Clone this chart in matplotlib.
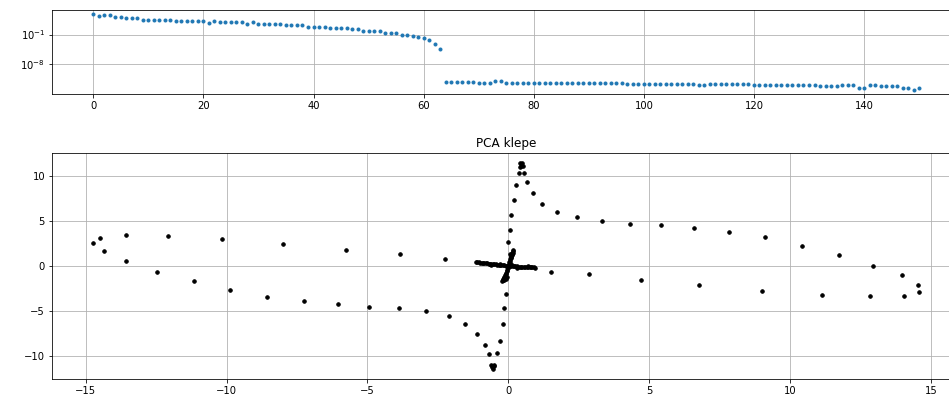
import numpy as np
import matplotlib.pyplot as plt
from matplotlib.ticker import NullLocator

######### DATA #########

# log10 of the PCA eigenvalues
eig_log10 = [3.95, 3.5, 3.55, 3.55, 3.15, 3.15, 2.85, 2.85, 2.85, 2.53,
             2.53, 2.53, 2.53, 2.53, 2.53, 2.2, 2.2, 2.2, 2.2, 2.2,
             2.2, 1.83, 2.3, 1.97, 1.97, 1.97, 1.97, 1.97, 1.5, 2.1,
             1.6, 1.6, 1.6, 1.6, 1.6, 1.2, 1.27, 1.27, 1.27, 0.9,
             0.9, 0.88, 0.88, 0.56, 0.56, 0.56, 0.5, 0.25, 0.22, -0.05,
             -0.05, -0.08, -0.22, -0.53, -0.69, -0.72, -1.0, -1.05, -1.24, -1.7,
             -1.9, -2.3, -3.2, -4.45,
             # numerically zero part
             -12.25, -12.25, -12.25, -12.25, -12.25, -12.25, -12.55, -12.55, -12.55, -12.1,
             -12.1, -12.5, -12.5, -12.5, -12.5, -12.5, -12.5, -12.5, -12.5, -12.5,
             -12.5, -12.5, -12.5, -12.5, -12.5, -12.5, -12.5, -12.5, -12.5, -12.5,
             -12.5, -12.5, -12.5, -12.75, -12.75, -12.75, -12.75, -12.75, -12.75, -12.75,
             -12.75, -12.75, -12.75, -12.75, -12.75, -12.75, -13.1, -13.1, -12.8, -12.8,
             -12.8, -12.8, -12.8, -12.8, -12.8, -12.8, -13.1, -13.1, -13.0, -13.0,
             -13.0, -13.0, -13.0, -13.0, -13.0, -13.0, -13.0, -13.0, -13.35, -13.35,
             -13.35, -13.35, -13.0, -13.0, -13.0, -13.8, -13.8, -13.0, -13.0, -13.35,
             -13.35, -13.35, -13.35, -13.7, -13.7, -14.3, -13.8]

# PCA projection (first two components), outer arms
pc1 = [-14.73, -14.49, -14.34, -13.57, -13.57, -12.47, -12.08, -11.17, -10.15, -9.87,
       -8.57, -7.99, -7.27, -6.06, -5.77, -4.96, -3.89, -3.83, -2.25, -2.94,
       -2.12, -1.55, -1.11, -0.83, -0.68, -0.62, -0.52, -0.58, -0.55, -0.50,
       -0.39, -0.29, -0.20, -0.15, -0.09,
       -0.01, 0.05, 0.10, 0.19, 0.28, 0.38, 0.57, 0.40, 0.50, 0.45,
       0.42, 0.52, 0.66, 0.86, 1.19, 1.73, 2.45, 3.31, 4.33, 5.43,
       6.59, 7.84, 9.09, 10.43, 11.73, 12.93, 13.95, 14.52, 14.57, 14.03,
       12.84, 11.11, 9.00, 6.78, 4.72, 2.87, 1.52]
pc2 = [2.57, 3.17, 1.67, 3.50, 0.60, -0.63, 3.31, -1.67, 3.05, -2.71,
       -3.49, 2.42, -3.94, -4.24, 1.83, -4.53, -4.72, 1.38, 0.78, -5.02,
       -5.61, -6.50, -7.55, -8.77, -9.86, -11.0, -11.0, -11.3, -11.45, -11.2,
       -9.67, -8.33, -6.50, -4.69, -3.16,
       2.70, 3.98, 5.73, 7.41, 9.08, 10.42, 10.42, 11.45, 11.45, 11.2,
       11.0, 11.1, 9.38, 8.19, 6.96, 6.07, 5.43, 5.02, 4.69, 4.54,
       4.24, 3.80, 3.20, 2.27, 1.23, 0.00, -1.04, -2.12, -2.86, -3.35,
       -3.35, -3.20, -2.75, -2.12, -1.52, -0.89, -0.63]

# dense cross around the origin
cross1 = [-1.15, -1.10, -1.05, -1.00, -0.95, -0.90, -0.85, -0.80, -0.75, -0.70,
          -0.65, -0.60, -0.55, -0.50, -0.45, -0.40, -0.35, -0.30, -0.25, -0.20,
          -0.15, -0.10, -0.05, 0.00, 0.05, 0.10, 0.15, 0.20, 0.25, 0.30,
          0.35, 0.40, 0.45, 0.50, 0.55, 0.60, 0.65, 0.70, 0.75, 0.80,
          0.85, 0.90, 0.95, -0.60, -0.30, 0.30, 0.70,
          0.02, 0.03, 0.05, 0.06, 0.08, 0.10, 0.12, 0.13, 0.15, 0.17,
          0.18, 0.14, 0.08, 0.05, -0.02, -0.04, -0.06, -0.08, -0.10, -0.12,
          -0.14, -0.16, -0.18, -0.20, -0.22, -0.10, -0.15, -0.05, 0.10]
cross2 = [0.48, 0.43, 0.40, 0.38, 0.36, 0.34, 0.32, 0.30, 0.28, 0.27,
          0.25, 0.23, 0.21, 0.19, 0.17, 0.15, 0.14, 0.12, 0.10, 0.08,
          0.06, 0.05, 0.03, 0.01, 0.00, -0.01, -0.02, -0.03, -0.04, -0.05,
          -0.06, -0.07, -0.08, -0.09, -0.10, -0.11, -0.12, -0.13, -0.14, -0.14,
          -0.15, -0.16, -0.17, 0.12, 0.26, -0.20, -0.05,
          0.25, 0.45, 0.60, 0.75, 0.90, 1.05, 1.20, 1.35, 1.50, 1.62,
          1.75, 1.45, 1.10, 1.30, -0.25, -0.45, -0.60, -0.75, -0.90, -1.05,
          -1.20, -1.35, -1.48, -1.60, -1.70, -1.40, -1.55, -1.25, 0.20]

title = 'PCA klepe'

######### FIGURE #########

my_dpi = 72
W, H = 949, 403
plt.rc('font', size=10, family='DejaVu Sans')
fig = plt.figure(figsize=(W/my_dpi, H/my_dpi), dpi=my_dpi)

# axes placed in pixels; right edge runs past the canvas like the original crop
def px_axes(left, top, right, bottom):
	return fig.add_axes([left/W, 1-bottom/H, (right-left)/W, (bottom-top)/H])

ax1 = px_axes(52, 10, 960.4, 94)
ax2 = px_axes(52, 153, 960.3, 379)

######### TOP: EIGENVALUES #########

eig = 10.0**np.array(eig_log10)
ax1.semilogy(np.arange(len(eig)), eig, '.', color='C0')
ax1.set_yticks([1e-1, 1e-8])
ax1.yaxis.set_minor_locator(NullLocator())
ax1.grid(True)

######### BOTTOM: PROJECTION #########

ax2.plot(pc1 + cross1, pc2 + cross2, 'k.', markersize=7)
ax2.set_title(title)
ax2.grid(True)

plt.savefig('out.png', dpi=my_dpi)
